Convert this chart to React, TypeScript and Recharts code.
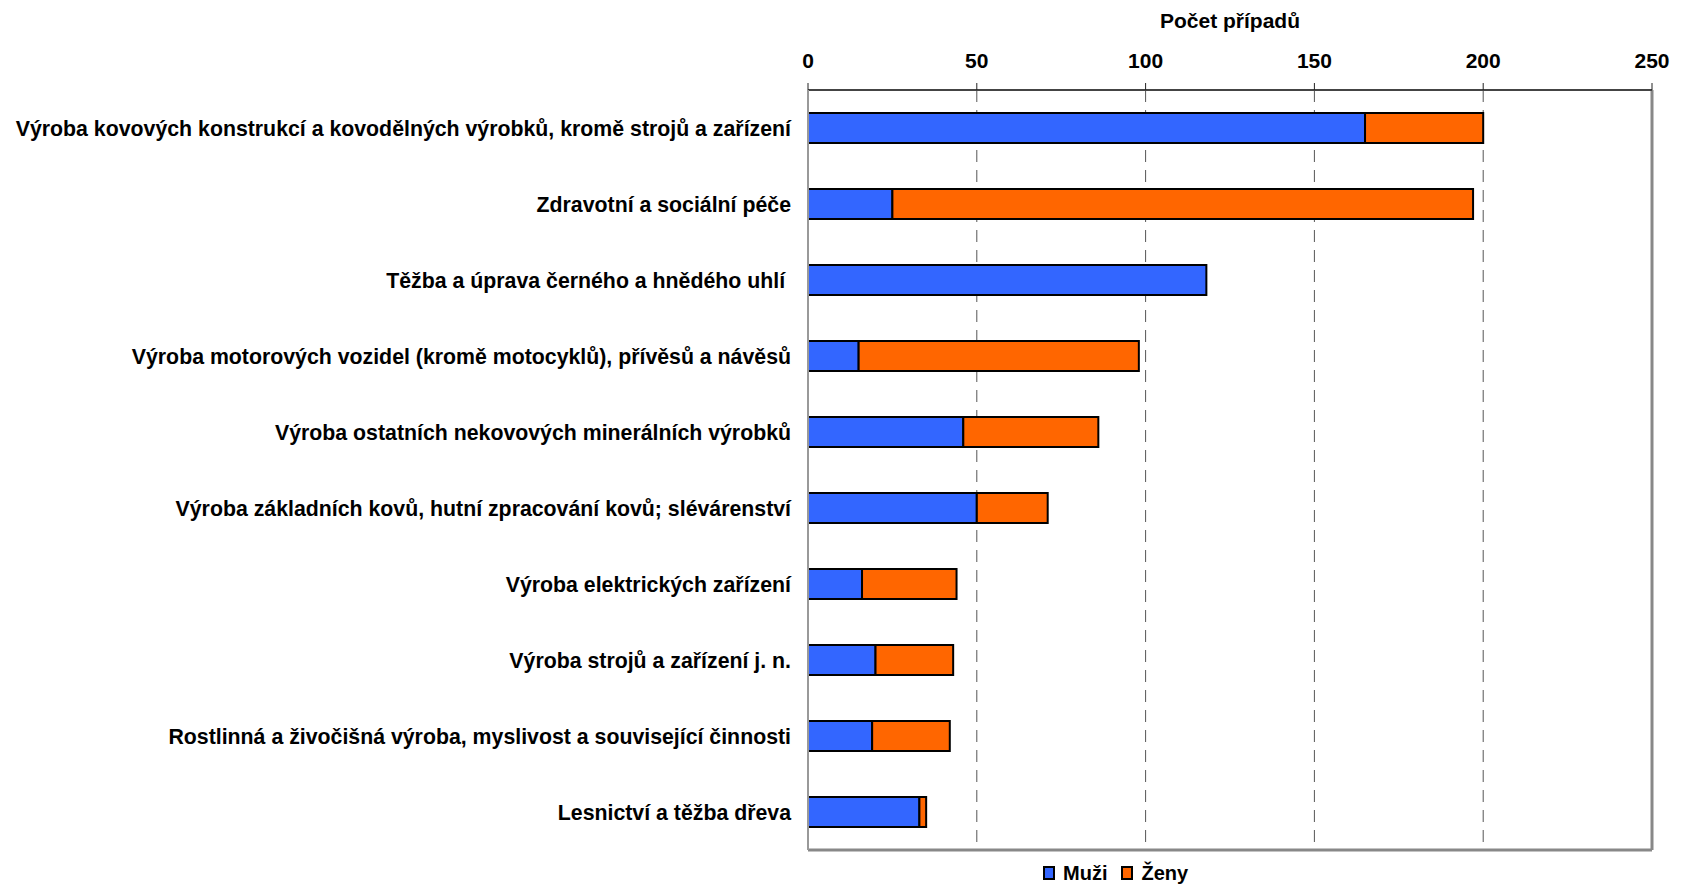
import React from 'react';
import { BarChart, Bar, XAxis, YAxis, CartesianGrid, Legend, ReferenceLine, Label } from 'recharts';

const categories = [
  'Výroba kovových konstrukcí a kovodělných výrobků, kromě strojů a zařízení',
  'Zdravotní a sociální péče',
  'Těžba a úprava černého a hnědého uhlí\u00a0',
  'Výroba motorových vozidel (kromě motocyklů), přívěsů a návěsů',
  'Výroba ostatních nekovových minerálních výrobků',
  'Výroba základních kovů, hutní zpracování kovů; slévárenství',
  'Výroba elektrických zařízení',
  'Výroba strojů a zařízení j. n.',
  'Rostlinná a živočišná výroba, myslivost a související činnosti',
  'Lesnictví a těžba dřeva',
];

const muzi = [165, 25, 118, 15, 46, 50, 16, 20, 19, 33];
const zeny = [35, 172, 0, 83, 40, 21, 28, 23, 23, 2];

const xTicks = [0, 50, 100, 150, 200, 250];

const BLUE = '#3366FF';
const ORANGE = '#FF6600';
const FONT = '"Liberation Sans", Arial, Helvetica, sans-serif';

const data = categories.map((name, i) => ({ name, muzi: muzi[i], zeny: zeny[i] }));

const LegendContent = () => (
  <div style={{ display: 'flex', alignItems: 'center', fontFamily: FONT, fontWeight: 'bold', fontSize: 20, color: '#000', lineHeight: '24px' }}>
    {[
      { label: 'Muži', color: BLUE },
      { label: 'Ženy', color: ORANGE },
    ].map((item) => (
      <div key={item.label} style={{ display: 'flex', alignItems: 'center', marginRight: 14 }}>
        <span style={{ display: 'inline-block', width: 8, height: 10, background: item.color, border: '2px solid #000', marginRight: 8 }} />
        <span>{item.label}</span>
      </div>
    ))}
  </div>
);

export default function App() {
  return (
    <div style={{ background: '#fff', fontFamily: FONT }}>
      <BarChart
        width={1665}
        height={877}
        data={data}
        layout="vertical"
        margin={{ top: 42, right: 21, bottom: 9, left: 0 }}
        barSize={30}
      >
        <CartesianGrid horizontal={false} stroke="#555" strokeDasharray="12 8" />
        <XAxis
          type="number"
          orientation="top"
          domain={[0, 250]}
          ticks={xTicks}
          height={40}
          tickSize={7}
          tickMargin={15}
          stroke="#333"
          axisLine={{ stroke: '#444', strokeWidth: 2 }}
          tickLine={{ stroke: '#222' }}
          tick={{ fill: '#000', fontSize: 21, fontWeight: 'bold', fontFamily: FONT }}
        >
          <Label value="Počet případů" position="top" offset={22} fill="#000" fontSize={21} fontWeight="bold" fontFamily={FONT} />
        </XAxis>
        <XAxis
          xAxisId="bottom"
          type="number"
          orientation="bottom"
          domain={[0, 250]}
          height={2}
          tick={false}
          tickLine={false}
          axisLine={{ stroke: '#888', strokeWidth: 3 }}
        />
        <YAxis
          type="category"
          dataKey="name"
          width={800}
          tickLine={false}
          tickMargin={11}
          axisLine={{ stroke: '#999', strokeWidth: 2 }}
          interval={0}
          tick={{ fill: '#000', fontSize: 21.3, fontWeight: 'bold', fontFamily: FONT }}
        />
        <ReferenceLine x={250} stroke="#888" strokeWidth={3} />
        <Bar dataKey="muzi" name="Muži" stackId="a" fill={BLUE} stroke="#000" strokeWidth={2} isAnimationActive={false} />
        <Bar dataKey="zeny" name="Ženy" stackId="a" fill={ORANGE} stroke="#000" strokeWidth={2} isAnimationActive={false} />
        <Legend content={<LegendContent />} wrapperStyle={{ left: 1035, bottom: 0, width: 'auto' }} />
      </BarChart>
    </div>
  );
}
